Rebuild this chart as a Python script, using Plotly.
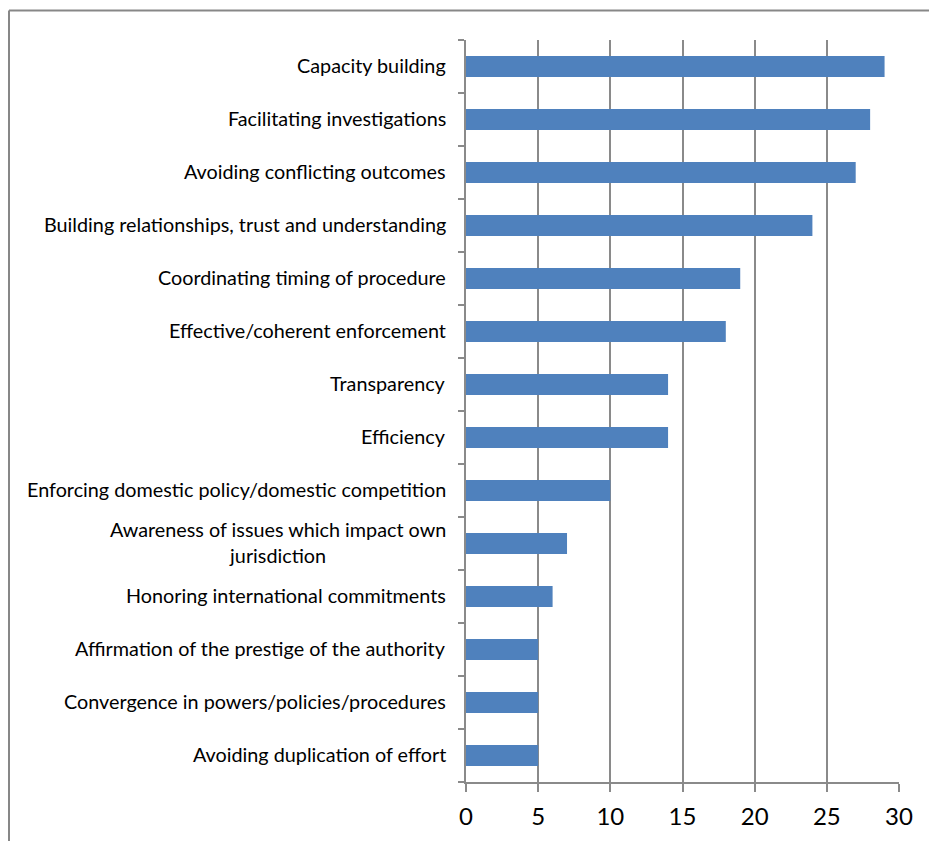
import plotly.graph_objects as go

# Categories listed top to bottom, with their counts
categories = [
    "Capacity building",
    "Facilitating investigations",
    "Avoiding conflicting outcomes",
    "Building relationships, trust and understanding",
    "Coordinating timing of procedure",
    "Effective/coherent enforcement",
    "Transparency",
    "Efficiency",
    "Enforcing domestic policy/domestic competition",
    "Awareness of issues which impact own<br>jurisdiction",
    "Honoring international commitments",
    "Affirmation of the prestige of the authority",
    "Convergence in powers/policies/procedures",
    "Avoiding duplication of effort",
]
values = [29, 28, 27, 24, 19, 18, 14, 14, 10, 7, 6, 5, 5, 5]
x_ticks = [0, 5, 10, 15, 20, 25, 30]

W, H = 929, 841
L, R, T, B = 466, 30, 40, 59
plot_w = W - L - R
plot_h = H - T - B

GRID = "#8a8a8a"
BAR = "#4F81BD"
FONT = "Lato"

fig = go.Figure(
    go.Bar(
        x=values,
        y=categories,
        orientation="h",
        marker=dict(color=BAR, line=dict(width=0)),
        width=0.4,
        hoverinfo="x+y",
    )
)

# Category labels, right-aligned against the axis, multi-line text centred
annotations = []
for cat in categories:
    annotations.append(
        dict(
            x=0, xref="paper", xanchor="right", xshift=-18, yshift=2,
            y=cat, yref="y", yanchor="middle",
            text=cat, showarrow=False, align="center",
            font=dict(family=FONT, size=19.8, color="#000000"),
        )
    )

def px_to_paper_x(px):
    return (px - L) / plot_w

def px_to_paper_y(py):
    return (H - B - py) / plot_h

# Outer chart frame
shapes = [
    dict(type="line", xref="paper", yref="paper",
         x0=px_to_paper_x(9), x1=px_to_paper_x(940),
         y0=px_to_paper_y(10.5), y1=px_to_paper_y(10.5),
         line=dict(color="#878787", width=2)),
    dict(type="line", xref="paper", yref="paper",
         x0=px_to_paper_x(9), x1=px_to_paper_x(9),
         y0=px_to_paper_y(10.5), y1=px_to_paper_y(850),
         line=dict(color="#878787", width=2)),
]

fig.update_layout(
    width=W, height=H,
    margin=dict(l=L, r=R, t=T, b=B, pad=0),
    paper_bgcolor="white",
    plot_bgcolor="white",
    showlegend=False,
    annotations=annotations,
    shapes=shapes,
    font=dict(family=FONT, color="#000000"),
)

fig.update_xaxes(
    range=[0, 30],
    tickvals=x_ticks,
    ticktext=[str(v) for v in x_ticks],
    showgrid=True, gridcolor=GRID, gridwidth=1.5,
    zeroline=False,
    showline=True, linecolor=GRID, linewidth=1.5,
    ticks="outside", ticklen=8, tickcolor=GRID, tickwidth=1.5,
    ticklabelstandoff=4,
    tickfont=dict(family=FONT, size=24, color="#000000"),
    fixedrange=True,
)

fig.update_yaxes(
    type="category",
    categoryorder="array",
    categoryarray=list(reversed(categories)),
    range=[-0.5, len(categories) - 0.5],
    showticklabels=False,
    tickson="boundaries",
    ticks="outside", ticklen=6, tickcolor=GRID, tickwidth=1.5,
    showgrid=False,
    showline=True, linecolor=GRID, linewidth=1.5,
    fixedrange=True,
)

fig.write_html("out.html")
